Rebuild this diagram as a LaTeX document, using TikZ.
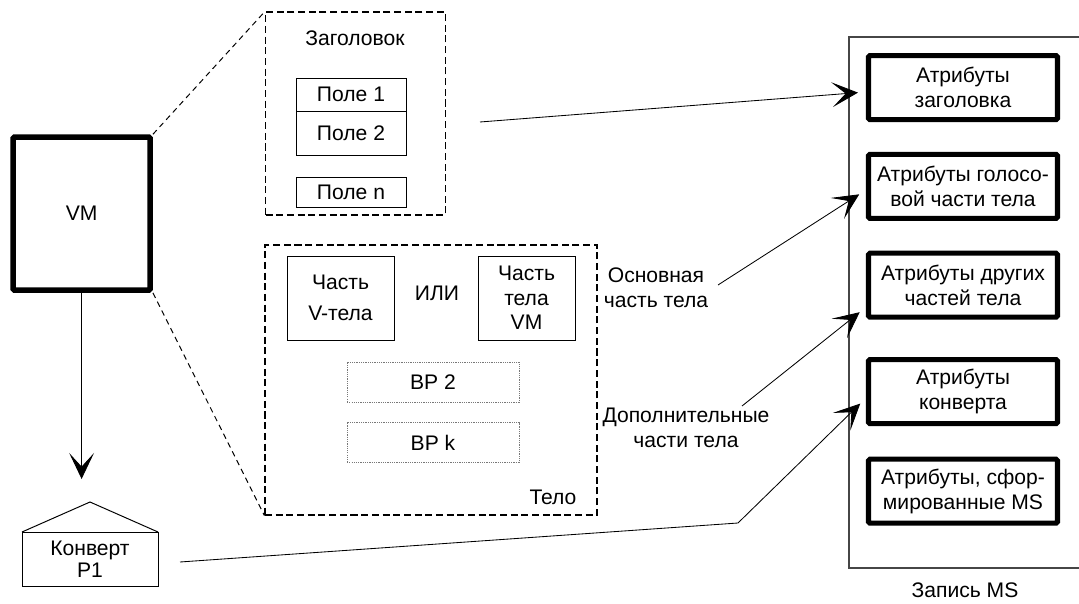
\documentclass[tikz,border=0pt]{standalone}
\usepackage{fontspec}
\setmainfont{Liberation Sans}
\definecolor{framegray}{RGB}{70,70,70}
\definecolor{dotgray}{RGB}{120,120,120}
\usetikzlibrary{arrows.meta,positioning,calc}

\begin{document}
\begin{tikzpicture}[
    font=\fontsize{15}{17.5}\selectfont,
    thickbox/.style={draw, line width=3.6pt, rounded corners=1pt, align=center, inner sep=0pt},
    thinbox/.style={draw, line width=0.7pt, align=center, inner sep=0pt, outer sep=0pt},
    dotbox/.style={draw=dotgray, line width=0.6pt, dash pattern=on 0.8pt off 0.8pt, inner sep=0pt},
    dashframe/.style={draw, line width=0.8pt, dash pattern=on 5pt off 2.6pt, inner sep=0pt},
    guide/.style={line width=0.7pt, dash pattern=on 4pt off 3pt},
    pointer/.style={line width=0.6pt, -{Stealth[length=0.65cm, width=0.62cm, inset=0.34cm]}},
  ]
  \useasboundingbox (0,0) rectangle (26.975,-15.1);

  \node[thickbox, line width=4pt, minimum width=3.425cm, minimum height=3.825cm] (vm) at (2.04,-5.34) {VM};
  \node[thinbox, minimum width=3.4cm, minimum height=1.35cm] (env) at (2.25,-13.975) {Конверт\\[-2pt]P1};
  \draw[line width=0.7pt] (env.north west) -- ([yshift=0.75cm]env.north) -- (env.north east);
  \coordinate (vmtip) at (2.05,-11.975);
  \draw[pointer] (vm.south) -- (vm.south |- vmtip);

  \node[dashframe, minimum width=4.5cm, minimum height=5.075cm] (hdr) at (8.8875,-2.8375) {};
  \node (hdrlbl) at (8.875,-0.95) {Заголовок};
  \node[thinbox, minimum width=2.75cm, minimum height=0.825cm] (pole1) at (8.775,-2.3625) {Поле 1};
  \node[thinbox, minimum width=2.75cm, minimum height=1.1cm, below=0pt of pole1] (pole2) {Поле 2};
  \node[thinbox, minimum width=2.75cm, minimum height=0.75cm] (polen) at (8.775,-4.8) {Поле n};

  \node[dashframe, minimum width=8.3cm, minimum height=6.75cm] (body) at (10.775,-9.5) {};
  \node[thinbox, minimum width=2.675cm, minimum height=2.1cm] (vpart) at (8.5125,-7.45) {Часть\\[5pt]V-тела};
  \node (ili) at (10.925,-7.325) {ИЛИ};
  \node[thinbox, minimum width=2.425cm, minimum height=2.1cm] (vmpart) at (13.1625,-7.45) {Часть\\тела\\VM};
  \node[dotbox, minimum width=4.3cm, minimum height=1cm] (bp2) at (10.825,-9.55) {BP 2};
  \node[dotbox, minimum width=4.3cm, minimum height=1cm] (bpk) at (10.825,-11.0625) {BP k};
  \node (bodylbl) at (13.825,-12.425) {Тело};

  \draw[guide] (vm.north east) -- (hdr.north west);
  \draw[guide] (vm.south east) -- (body.south west);

  \node[align=center] (mainlbl) at (16.4,-7.2) {Основная\\часть тела};
  \node[align=center] (extralbl) at (17.15,-10.7) {Дополнительные\\части тела};

  \node[draw=framegray, line width=1pt, minimum width=6.075cm, minimum height=13.275cm] (store) at (24.2625,-7.5625) {};
  \node (storelbl) at (24.125,-14.75) {Запись MS};
  \node[thickbox, minimum width=4.725cm, minimum height=1.6cm] (attrhead) at (24.075,-2.19) {Атрибуты\\заголовка};
  \node[thickbox, minimum width=4.725cm, minimum height=1.6cm] (attrvoice) at (24.075,-4.66) {Атрибуты голосо-\\вой части тела};
  \node[thickbox, minimum width=4.725cm, minimum height=1.6cm] (attrbody) at (24.075,-7.13) {Атрибуты других\\частей тела};
  \node[thickbox, minimum width=4.725cm, minimum height=1.6cm] (attrenv) at (24.075,-9.79) {Атрибуты\\конверта};
  \node[thickbox, minimum width=4.725cm, minimum height=1.6cm] (attrms) at (24.075,-12.28) {Атрибуты, сфор-\\мированные MS};

  \coordinate (hdrfrom) at (12,-3.05);
  \coordinate (mainfrom) at (17.95,-7.125);
  \coordinate (extrafrom) at (18.55,-10.15);
  \coordinate (envbend) at (18.45,-13.075);
  \draw[pointer, shorten >=0.2cm] (hdrfrom) -- ([yshift=-0.11cm]attrhead.west);
  \draw[pointer, shorten >=0.2cm] (mainfrom) -- ([yshift=-0.09cm]attrvoice.west);
  \draw[pointer, shorten >=0.2cm] (extrafrom) -- ([yshift=-0.55cm]attrbody.west);
  \draw[pointer, shorten >=0.2cm] ([xshift=0.55cm,yshift=-0.075cm]env.east) -- (envbend) -- ([yshift=-0.16cm]attrenv.west);
\end{tikzpicture}
\end{document}
